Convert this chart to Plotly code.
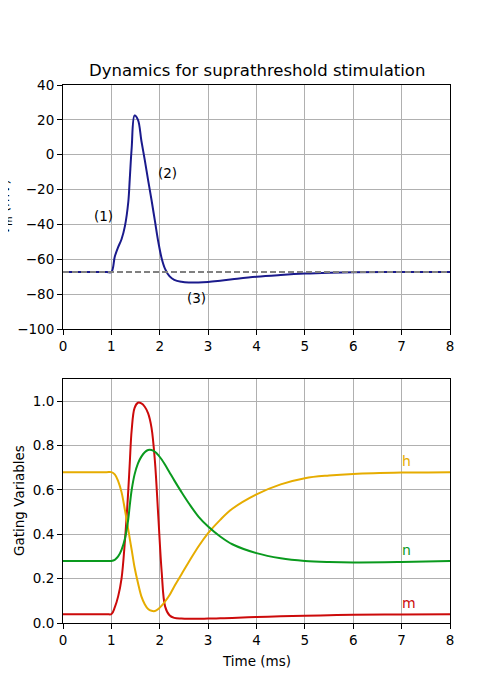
import plotly.graph_objects as go
from plotly.subplots import make_subplots

# 시간축 (ms)
t = [0, 0.9, 1.0, 1.07, 1.14, 1.21, 1.28, 1.35, 1.38, 1.42, 1.48, 1.55, 1.62, 1.69, 1.76,
     1.83, 1.90, 1.97, 2.04, 2.11, 2.2, 2.3, 2.45, 2.6, 2.8, 3.0, 3.25, 3.5, 4.0,
     4.5, 5.0, 5.5, 6.0, 7.0, 8.0]

# 막전위 (mV)
V = [-67.3, -67.3, -67.3, -58.5, -53, -48.5, -41, -27, -14, 4, 22.5, 20, 8, -3, -14.7,
     -26, -38, -50, -59.5, -65.5, -69.7, -71.8, -72.9, -73.3, -73.3, -73, -72.3, -71.5, -70,
     -69, -68.2, -67.7, -67.4, -67.3, -67.3]
V_rest = -67.3

# gating 변수
m = [0.04, 0.04, 0.04, 0.07, 0.12, 0.2, 0.37, 0.60, 0.72, 0.87, 0.97, 0.993, 0.99, 0.975, 0.945,
     0.88, 0.73, 0.48, 0.23, 0.075, 0.035, 0.023, 0.02, 0.019, 0.019, 0.02, 0.021, 0.023, 0.027,
     0.03, 0.033, 0.035, 0.037, 0.038, 0.039]
n = [0.28, 0.28, 0.28, 0.285, 0.3, 0.33, 0.38, 0.47, 0.53, 0.60, 0.67, 0.72, 0.75, 0.77, 0.78,
     0.78, 0.772, 0.757, 0.737, 0.713, 0.68, 0.643, 0.59, 0.54, 0.48, 0.435, 0.39, 0.355, 0.315,
     0.292, 0.28, 0.275, 0.273, 0.275, 0.279]
h = [0.68, 0.68, 0.68, 0.67, 0.64, 0.59, 0.51, 0.42, 0.38, 0.33, 0.25, 0.18, 0.12, 0.085, 0.063,
     0.055, 0.054, 0.063, 0.078, 0.097, 0.125, 0.165, 0.22, 0.275, 0.345, 0.405, 0.465, 0.515, 0.58,
     0.625, 0.653, 0.665, 0.672, 0.678, 0.68]

# 구간 표시 라벨
phase_labels = ['(1)', '(2)', '(3)']
phase_x = [0.6, 1.92, 2.52]
phase_y = [-35.3, -10.3, -82.3]

col_v = '#1a1a8c'
col_m = '#cc0a0a'
col_n = '#0a9a1e'
col_h = '#e6ac00'

fig = make_subplots(rows=2, cols=1, vertical_spacing=50 / 538)

line_kw = dict(width=2, shape='spline', smoothing=1.0)

fig.add_trace(go.Scatter(x=t, y=V, mode='lines', line=dict(color=col_v, **line_kw)), row=1, col=1)
fig.add_trace(go.Scatter(x=[0, 8], y=[V_rest, V_rest], mode='lines',
                         line=dict(color='#808080', width=2, dash='6px,3px')), row=1, col=1)

fig.add_trace(go.Scatter(x=t, y=m, mode='lines', line=dict(color=col_m, **line_kw)), row=2, col=1)
fig.add_trace(go.Scatter(x=t, y=h, mode='lines', line=dict(color=col_h, **line_kw)), row=2, col=1)
fig.add_trace(go.Scatter(x=t, y=n, mode='lines', line=dict(color=col_n, **line_kw)), row=2, col=1)

font = dict(family='DejaVu Sans', size=13.5, color='black')

for lab, x, y in zip(phase_labels, phase_x, phase_y):
    fig.add_annotation(x=x, y=y, xref='x', yref='y', text=lab, showarrow=False,
                       xanchor='left', yanchor='middle', font=font)

for lab, vals, c in [('h', h, col_h), ('n', n, col_n), ('m', m, col_m)]:
    fig.add_annotation(x=7.0, y=vals[-1] + 0.02, xref='x2', yref='y2', text=lab, showarrow=False,
                       xanchor='left', yanchor='bottom', yshift=-3, xshift=-2,
                       font=dict(family='DejaVu Sans', size=14, color=c))

# 제목, 축 라벨
fig.add_annotation(x=0.5, y=1, xref='paper', yref='paper', text='Dynamics for suprathreshold stimulation',
                   showarrow=False, yanchor='bottom', yshift=3,
                   font=dict(family='DejaVu Sans', size=16.5, color='black'))
fig.add_annotation(x=0, y=(1 + 294 / 538) / 2, xref='paper', yref='paper', text='V<sub>m</sub> (mV)',
                   showarrow=False, textangle=-90, xanchor='center', yanchor='middle', xshift=-58,
                   font=font)
fig.add_annotation(x=0, y=244 / 538 / 2, xref='paper', yref='paper', text='Gating Variables',
                   showarrow=False, textangle=-90, xanchor='center', yanchor='middle', xshift=-44,
                   font=font)
fig.add_annotation(x=0.5, y=0, xref='paper', yref='paper', text='Time (ms)',
                   showarrow=False, yanchor='top', yshift=-28, font=font)

ax = dict(showline=True, linecolor='black', linewidth=1, mirror=True, ticks='outside', ticklen=5,
          tickcolor='black', showgrid=True, gridcolor='#b0b0b0', gridwidth=1, zeroline=False,
          tickfont=font, automargin=False)

fig.update_xaxes(**ax, range=[0, 8], dtick=1, tick0=0)
fig.update_yaxes(**ax)
fig.update_yaxes(range=[-100, 40], dtick=20, tick0=-100, row=1, col=1)
fig.update_yaxes(range=[0, 1.1], dtick=0.2, tick0=0, tickformat='.1f', row=2, col=1)

# 페이지 body 여백(8px)을 고려해 margin 조정
fig.update_layout(
    width=500, height=700,
    margin=dict(l=55, r=58, t=77, b=85),
    showlegend=False,
    plot_bgcolor='white',
    paper_bgcolor='white',
    font=font,
)

fig.write_html('out.html')
